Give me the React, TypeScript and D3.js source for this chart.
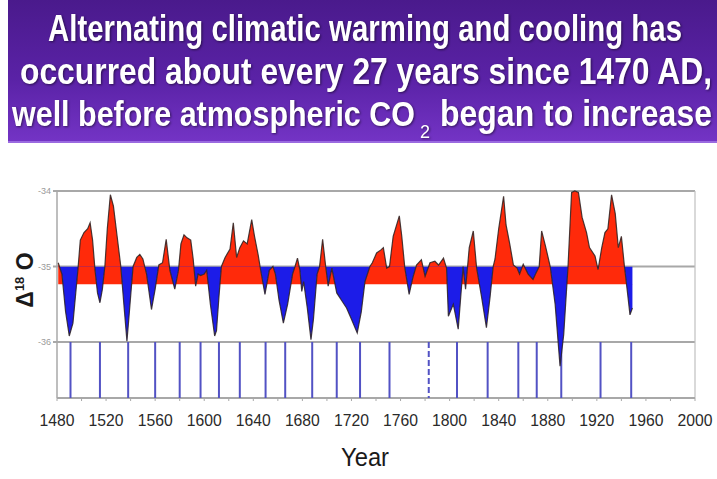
import React from "react";
import * as d3 from "d3";

const years: number[] = [
  1481, 1484, 1487, 1490, 1493, 1495, 1497, 1499, 1502, 1505, 1507, 1509, 1511, 1513, 1515, 1517, 1519,
  1521, 1523.5, 1526, 1529, 1532, 1535, 1537, 1539, 1542, 1545, 1547.5, 1550, 1553, 1557, 1560, 1563,
  1566, 1569, 1572, 1576, 1579, 1581, 1583.5, 1586, 1589, 1591, 1593, 1595, 1597, 1600, 1602, 1605,
  1608.5, 1610, 1612, 1614, 1617, 1621, 1623.7, 1626.4, 1629, 1632, 1635, 1638.7, 1641, 1644, 1646,
  1649.5, 1653, 1656, 1658, 1661, 1664.5, 1668, 1672, 1674, 1676, 1678, 1679.5, 1681, 1684, 1687, 1689,
  1692, 1694, 1696.5, 1699, 1701, 1704, 1708, 1712, 1716, 1720, 1724.7, 1728, 1731, 1735, 1737, 1740.5,
  1744, 1746, 1748.7, 1751, 1754, 1759, 1761, 1763.5, 1767, 1770, 1773, 1777, 1780, 1784, 1788, 1791,
  1795, 1797.5, 1799, 1803, 1807, 1811, 1813, 1816, 1819.3, 1822, 1826, 1830, 1833, 1835.5, 1837, 1840,
  1844, 1846, 1849, 1852, 1855, 1857, 1860, 1864, 1868, 1870, 1873, 1875, 1878, 1882, 1886, 1890, 1893,
  1896.5, 1899.4, 1902, 1905, 1908, 1911.6, 1914, 1918.5, 1921, 1924, 1926.6, 1929, 1932, 1935, 1937.5,
  1940, 1942.5, 1945, 1947, 1949,
];

const delta18O: number[] = [
  -34.95, -35.1, -35.6, -35.92, -35.75, -35.4, -35.05, -34.65, -34.55, -34.5, -34.42, -34.65, -35.05, -35.35, -35.48, -35.3, -35.0,
  -34.5, -34.05, -34.2, -34.6, -35.0, -35.6, -35.99, -35.6, -35.0, -34.88, -34.84, -34.9, -35.1, -35.57, -35.3, -34.98,
  -34.95, -34.64, -35.05, -35.3, -35.05, -34.7, -34.58, -34.62, -34.65, -34.9, -35.26, -35.1, -35.12, -35.1, -35.05, -35.5,
  -35.92, -35.85, -35.4, -35.0, -34.88, -34.77, -34.42, -34.88, -34.75, -34.66, -34.7, -34.38, -34.6, -34.85, -35.05,
  -35.37, -35.05, -35.0, -35.1, -35.45, -35.75, -35.5, -35.1, -35.0, -34.89, -35.05, -35.33, -35.2, -35.55, -35.97, -35.7,
  -35.1, -35.0, -34.64, -35.0, -35.26, -35.02, -35.35, -35.45, -35.55, -35.7, -35.88, -35.6, -35.2, -35.0, -34.95, -34.82,
  -34.78, -34.75, -35.02, -35.0, -34.6, -34.33, -34.6, -35.02, -35.37, -35.15, -34.98, -34.91, -35.13, -34.95, -34.93, -34.98,
  -34.89, -35.02, -35.66, -35.5, -35.83, -35.0, -35.3, -34.75, -34.53, -35.02, -35.4, -35.81, -35.4, -35.0, -34.9, -34.5,
  -34.07, -34.45, -34.7, -34.98, -35.02, -35.1, -34.97, -35.1, -35.17, -35.1, -35.0, -34.53, -34.72, -35.0, -35.5, -36.32, -35.9,
  -35.0, -34.02, -34.0, -34.02, -34.35, -34.55, -34.75, -34.86, -35.04, -34.75, -34.55, -34.5, -34.05, -34.3, -34.75,
  -34.6, -35.0, -35.35, -35.64, -35.55,
];

const cycleYears: number[] = [
  1491, 1515, 1538, 1560, 1580, 1597, 1612, 1629, 1650, 1666, 1688, 1708, 1727, 1751, 1806, 1831, 1856,
  1871, 1891, 1923, 1948,
];
const dashedCycleYears: number[] = [1783];

const xTicks: number[] = [1480, 1520, 1560, 1600, 1640, 1680, 1720, 1760, 1800, 1840, 1880, 1920, 1960, 2000];
const yTicks: number[] = [-34, -35, -36];
const titleLines: string[] = [
  "Alternating climatic warming and cooling has",
  "occurred about every 27 years since 1470 AD,",
  "well before atmospheric CO",
  "2",
  "began to increase",
];

const redBase = -35.24;
const blueBase = -35;

export default function App() {
  const W = 717;
  const H = 479;
  const left = 57;
  const right = 695;
  const top = 191;
  const bottom = 398;

  const x = d3.scaleLinear().domain([1480, 2000]).range([left, right]);
  const y = d3.scaleLinear().domain([-34, -36]).range([top, 342]);

  const data = years.map((yr, i) => ({ yr, v: delta18O[i] }));

  const redArea = d3
    .area<{ yr: number; v: number }>()
    .x((d) => x(d.yr))
    .y0(y(redBase))
    .y1((d) => y(d.v))(data) as string;
  const blueArea = d3
    .area<{ yr: number; v: number }>()
    .x((d) => x(d.yr))
    .y0(y(blueBase))
    .y1((d) => y(d.v))(data) as string;
  const line = d3
    .line<{ yr: number; v: number }>()
    .x((d) => x(d.yr))
    .y((d) => y(d.v))(data) as string;

  const minorTicks = d3.range(1480, 2001, 20);
  const titleFont = "'Liberation Sans', Arial, sans-serif";
  const sy = 1.15;

  return (
    <svg
      width={W}
      height={H}
      style={{ position: "absolute", left: 0, top: 0, background: "#fff" }}
      xmlns="http://www.w3.org/2000/svg"
    >
      <defs>
        <linearGradient id="banner" x1="0" y1="0" x2="0" y2="1">
          <stop offset="0" stopColor="#4a1a8c" />
          <stop offset="0.55" stopColor="#5a22a6" />
          <stop offset="1" stopColor="#7434c6" />
        </linearGradient>
        <clipPath id="clipRed">
          <rect x={0} y={0} width={W} height={y(redBase)} />
        </clipPath>
        <clipPath id="clipBlue">
          <rect x={0} y={y(blueBase)} width={W} height={H - y(blueBase)} />
        </clipPath>
      </defs>

      {/* banner */}
      <rect x={8} y={0} width={W - 8} height={143} fill="url(#banner)" />
      <rect x={8} y={141} width={W - 8} height={2} fill="#9a6ae0" />
      <g
        fill="#ffffff"
        fontFamily={titleFont}
        fontWeight="bold"
        style={{ filter: "drop-shadow(1px 1px 1px rgba(0,0,0,0.5))" }}
      >
        <text transform={`translate(48,41) scale(1,${sy * 32 / 29.4})`} fontSize={29.4} textLength={634} lengthAdjust="spacingAndGlyphs">
          {titleLines[0]}
        </text>
        <text transform={`translate(20,84) scale(1,${sy})`} fontSize={31.7} textLength={692} lengthAdjust="spacingAndGlyphs">
          {titleLines[1]}
        </text>
        <text transform={`translate(12,126) scale(1,${sy})`} fontSize={30.5} textLength={403} lengthAdjust="spacingAndGlyphs">
          {titleLines[2]}
        </text>
        <text x={420} y={138} fontSize={18} fontWeight="normal">
          {titleLines[3]}
        </text>
        <text transform={`translate(440,126) scale(1,${sy})`} fontSize={32} textLength={272} lengthAdjust="spacingAndGlyphs">
          {titleLines[4]}
        </text>
      </g>

      {/* gridlines */}
      {yTicks.map((t) => (
        <line key={t} x1={left - 4} x2={right} y1={y(t)} y2={y(t)} stroke="#a8a8a8" strokeWidth={2} />
      ))}
      {/* frame */}
      <line x1={left} x2={left} y1={top} y2={bottom} stroke="#a8a8a8" strokeWidth={1.5} />
      <line x1={right} x2={right} y1={top} y2={bottom} stroke="#c0c0c0" strokeWidth={1.2} />
      <line x1={left} x2={right} y1={bottom} y2={bottom} stroke="#a8a8a8" strokeWidth={2} />
      {minorTicks.map((t) => (
        <line key={t} x1={x(t)} x2={x(t)} y1={bottom} y2={bottom + 3} stroke="#a8a8a8" strokeWidth={1} />
      ))}

      {/* cycle lines */}
      {cycleYears.map((c) => (
        <line key={c} x1={x(c)} x2={x(c)} y1={y(-36)} y2={bottom} stroke="#5252c4" strokeWidth={2} />
      ))}
      {dashedCycleYears.map((c) => (
        <line
          key={c}
          x1={x(c)}
          x2={x(c)}
          y1={y(-36)}
          y2={bottom}
          stroke="#5252c4"
          strokeWidth={2}
          strokeDasharray="6,3"
        />
      ))}

      {/* areas */}
      <path d={redArea} fill="#ff2a0a" clipPath="url(#clipRed)" />
      <path d={blueArea} fill="#1c1ce8" clipPath="url(#clipBlue)" />
      <path d={line} fill="none" stroke="#2a2020" strokeWidth={1.2} strokeOpacity={0.85} />

      {/* y tick labels */}
      {yTicks.map((t) => (
        <text
          key={t}
          x={left - 6}
          y={y(t) + 3}
          fontSize={9}
          fill="#9a9a9a"
          textAnchor="end"
          fontFamily="'Liberation Sans', Arial, sans-serif"
        >
          {t}
        </text>
      ))}

      {/* x tick labels */}
      {xTicks.map((t) => (
        <text
          key={t}
          x={x(t)}
          y={426}
          fontSize={17}
          fill="#2a2a2a"
          textAnchor="middle"
          fontFamily="'Liberation Sans', Arial, sans-serif"
          textLength={35}
          lengthAdjust="spacingAndGlyphs"
        >
          {t}
        </text>
      ))}

      {/* axis titles */}
      <text
        x={365}
        y={466}
        fontSize={25}
        fill="#1a1a1a"
        textAnchor="middle"
        fontFamily="'Liberation Sans', Arial, sans-serif"
        textLength={48}
        lengthAdjust="spacingAndGlyphs"
      >
        Year
      </text>
      <text
        transform="translate(33,280) rotate(-90)"
        fontSize={23}
        fontWeight="bold"
        fill="#1a1a1a"
        textAnchor="middle"
        fontFamily="'Liberation Sans', Arial, sans-serif"
      >
        Δ<tspan fontSize={13} dy={-9}>18</tspan>
        <tspan dy={9}> O</tspan>
      </text>
    </svg>
  );
}
